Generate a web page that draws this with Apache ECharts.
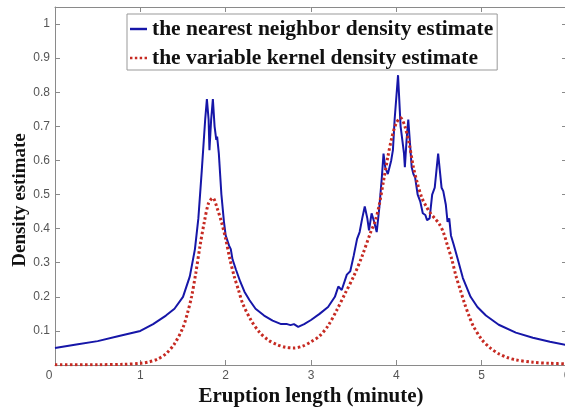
<!DOCTYPE html>
<html><head><meta charset="utf-8">
<script src="https://cdn.jsdelivr.net/npm/echarts@6/dist/echarts.min.js"></script>
<style>html,body{margin:0;padding:0;background:#fff}#c{width:565px;height:407px}</style>
</head><body><div id="c"></div>
<script>
const seriesNames = ['the nearest neighbor density estimate', 'the variable kernel density estimate'];
const xTitle = 'Eruption length (minute)';
const yTitle = 'Density estimate';

const nnX = [0,0.25,0.5,0.75,1.0,1.15,1.3,1.4,1.5,1.58,1.64,1.68,1.72,1.76,1.78,1.8,1.81,1.83,1.85,1.87,1.89,1.9,1.92,1.95,1.98,2.0,2.02,2.04,2.06,2.08,2.12,2.17,2.22,2.28,2.35,2.45,2.55,2.65,2.72,2.76,2.8,2.85,2.92,3.0,3.1,3.2,3.28,3.32,3.36,3.42,3.46,3.5,3.54,3.57,3.6,3.63,3.66,3.68,3.71,3.74,3.77,3.8,3.83,3.85,3.87,3.9,3.92,3.94,3.96,3.98,4.02,4.05,4.07,4.09,4.1,4.12,4.14,4.16,4.18,4.2,4.22,4.25,4.28,4.31,4.34,4.36,4.39,4.42,4.45,4.47,4.49,4.51,4.53,4.55,4.58,4.6,4.62,4.64,4.67,4.72,4.78,4.87,4.95,5.05,5.2,5.4,5.6,5.8,6.0];
const nnY = [0.05,0.06,0.07,0.085,0.1,0.12,0.145,0.165,0.2,0.26,0.34,0.43,0.57,0.72,0.78,0.72,0.63,0.72,0.78,0.7,0.66,0.67,0.62,0.5,0.42,0.38,0.38,0.35,0.34,0.31,0.28,0.245,0.215,0.19,0.165,0.145,0.13,0.12,0.12,0.117,0.12,0.112,0.12,0.132,0.15,0.17,0.2,0.23,0.22,0.265,0.275,0.32,0.37,0.39,0.43,0.465,0.43,0.395,0.445,0.42,0.39,0.46,0.55,0.62,0.58,0.56,0.58,0.6,0.63,0.72,0.85,0.7,0.66,0.62,0.58,0.66,0.72,0.65,0.58,0.56,0.55,0.5,0.48,0.445,0.44,0.425,0.43,0.5,0.52,0.57,0.62,0.57,0.52,0.51,0.47,0.42,0.43,0.38,0.355,0.31,0.255,0.2,0.17,0.145,0.118,0.095,0.08,0.068,0.058];

const vkX = [0,0.5,0.8,1.0,1.1,1.2,1.3,1.4,1.5,1.55,1.6,1.65,1.7,1.75,1.8,1.85,1.9,1.95,2.0,2.05,2.1,2.15,2.2,2.3,2.4,2.5,2.6,2.7,2.8,2.9,3.0,3.1,3.2,3.3,3.4,3.5,3.6,3.7,3.75,3.8,3.85,3.9,3.95,4.0,4.05,4.1,4.15,4.2,4.25,4.3,4.35,4.4,4.45,4.5,4.55,4.6,4.65,4.7,4.75,4.8,4.85,4.9,5.0,5.1,5.2,5.3,5.4,5.6,5.8,6.0];
const vkY = [0.001,0.001,0.002,0.005,0.009,0.017,0.033,0.062,0.11,0.15,0.2,0.27,0.35,0.42,0.475,0.49,0.46,0.42,0.37,0.31,0.26,0.22,0.18,0.13,0.095,0.073,0.06,0.052,0.05,0.055,0.068,0.085,0.115,0.16,0.21,0.26,0.32,0.39,0.42,0.47,0.54,0.61,0.67,0.71,0.725,0.7,0.65,0.58,0.53,0.49,0.465,0.445,0.43,0.415,0.39,0.35,0.31,0.26,0.22,0.18,0.145,0.115,0.075,0.05,0.033,0.022,0.015,0.008,0.005,0.003];

const xTicks = [0,1,2,3,4,5,6];
const yTicks = ['0.1','0.2','0.3','0.4','0.5','0.6','0.7','0.8','0.9','1'];

const pair = (xs, ys) => xs.map((x, i) => [x, ys[i]]);
const axisGray = '#8a8a8a';
const tickLbl = {color:'#555', fontFamily:'Liberation Sans, Arial, sans-serif', fontSize:12};
const blue = '#1616a8', red = '#c62a22';

const chart = echarts.init(document.getElementById('c'), null, {renderer:'canvas'});
chart.setOption({
  animation:false,
  backgroundColor:'#fff',
  grid:{left:55, right:-2, top:7, bottom:42, containLabel:false, outerBoundsMode:'none'},
  legend:{
    orient:'vertical', left:127, top:14,
    backgroundColor:'#fff', borderColor:'#999', borderWidth:1, borderRadius:0,
    padding:[4,4,1,3], itemGap:7, itemWidth:17, itemHeight:3,
    textStyle:{fontFamily:'Liberation Serif, Times New Roman, serif', fontWeight:'bold', fontSize:21.5, color:'#111'},
    data:[
      {name:seriesNames[0], icon:'path://M0,0H14V2H0Z', itemStyle:{color:blue}},
      {name:seriesNames[1], icon:'path://M0,0H2V2H0ZM4,0H6V2H4ZM8,0H10V2H8ZM12,0H14V2H12Z', itemStyle:{color:red}}
    ]
  },
  xAxis:[{
    type:'value', min:0, max:6, interval:1, position:'bottom',
    name:xTitle, nameLocation:'middle', nameGap:21, nameMoveOverlap:false,
    nameTextStyle:{fontFamily:'Liberation Serif, Times New Roman, serif', fontWeight:'bold', fontSize:21, color:'#111'},
    axisLine:{show:true, lineStyle:{color:axisGray, width:1}},
    axisTick:{show:true, inside:true, length:5, lineStyle:{color:axisGray}},
    axisLabel:Object.assign({margin:5, formatter:v => xTicks.indexOf(v) >= 0 ? (v === 0 ? '{z|0}' : String(v)) : '',
      rich:{z:{padding:[0,12,0,0], color:'#555', fontSize:12, fontFamily:'Liberation Sans, Arial, sans-serif'}}}, tickLbl),
    splitLine:{show:false}
  },{
    type:'value', min:0, max:6, interval:1, position:'top',
    axisLine:{show:true, onZero:false, lineStyle:{color:axisGray, width:1}},
    axisTick:{show:true, inside:true, length:5, lineStyle:{color:axisGray}},
    axisLabel:{show:false}, splitLine:{show:false}
  }],
  yAxis:[{
    type:'value', min:0, max:1.05, interval:0.1, position:'left',
    name:yTitle, nameLocation:'middle', nameGap:25, nameRotate:90, nameMoveOverlap:false,
    nameTextStyle:{fontFamily:'Liberation Serif, Times New Roman, serif', fontWeight:'bold', fontSize:19, color:'#111', padding:[0,28,0,0]},
    axisLine:{show:true, lineStyle:{color:axisGray, width:1}},
    axisTick:{show:true, inside:true, length:5, lineStyle:{color:axisGray}},
    axisLabel:Object.assign({margin:5, formatter:v => { const s = String(Math.round(v*10)/10); return (Math.abs(v*10 - Math.round(v*10)) < 1e-6 && yTicks.indexOf(s) >= 0) ? s : ''; }}, tickLbl),
    splitLine:{show:false}
  },{
    type:'value', min:0, max:1.05, interval:0.1, position:'right',
    axisLine:{show:true, onZero:false, lineStyle:{color:axisGray, width:1}},
    axisTick:{show:true, inside:true, length:5, lineStyle:{color:axisGray}},
    axisLabel:{show:false}, splitLine:{show:false}
  }],
  series:[{
    name:seriesNames[0], type:'line', xAxisIndex:0, yAxisIndex:0,
    data:pair(nnX, nnY), showSymbol:false, symbol:'none',
    lineStyle:{color:blue, width:2}, itemStyle:{color:blue}, z:3
  },{
    name:seriesNames[1], type:'line', xAxisIndex:0, yAxisIndex:0,
    data:pair(vkX, vkY), showSymbol:false, symbol:'none', smooth:0.3,
    lineStyle:{color:red, width:3, type:[2.5,2.5]}, itemStyle:{color:red}, z:4
  }]
});
</script></body></html>
